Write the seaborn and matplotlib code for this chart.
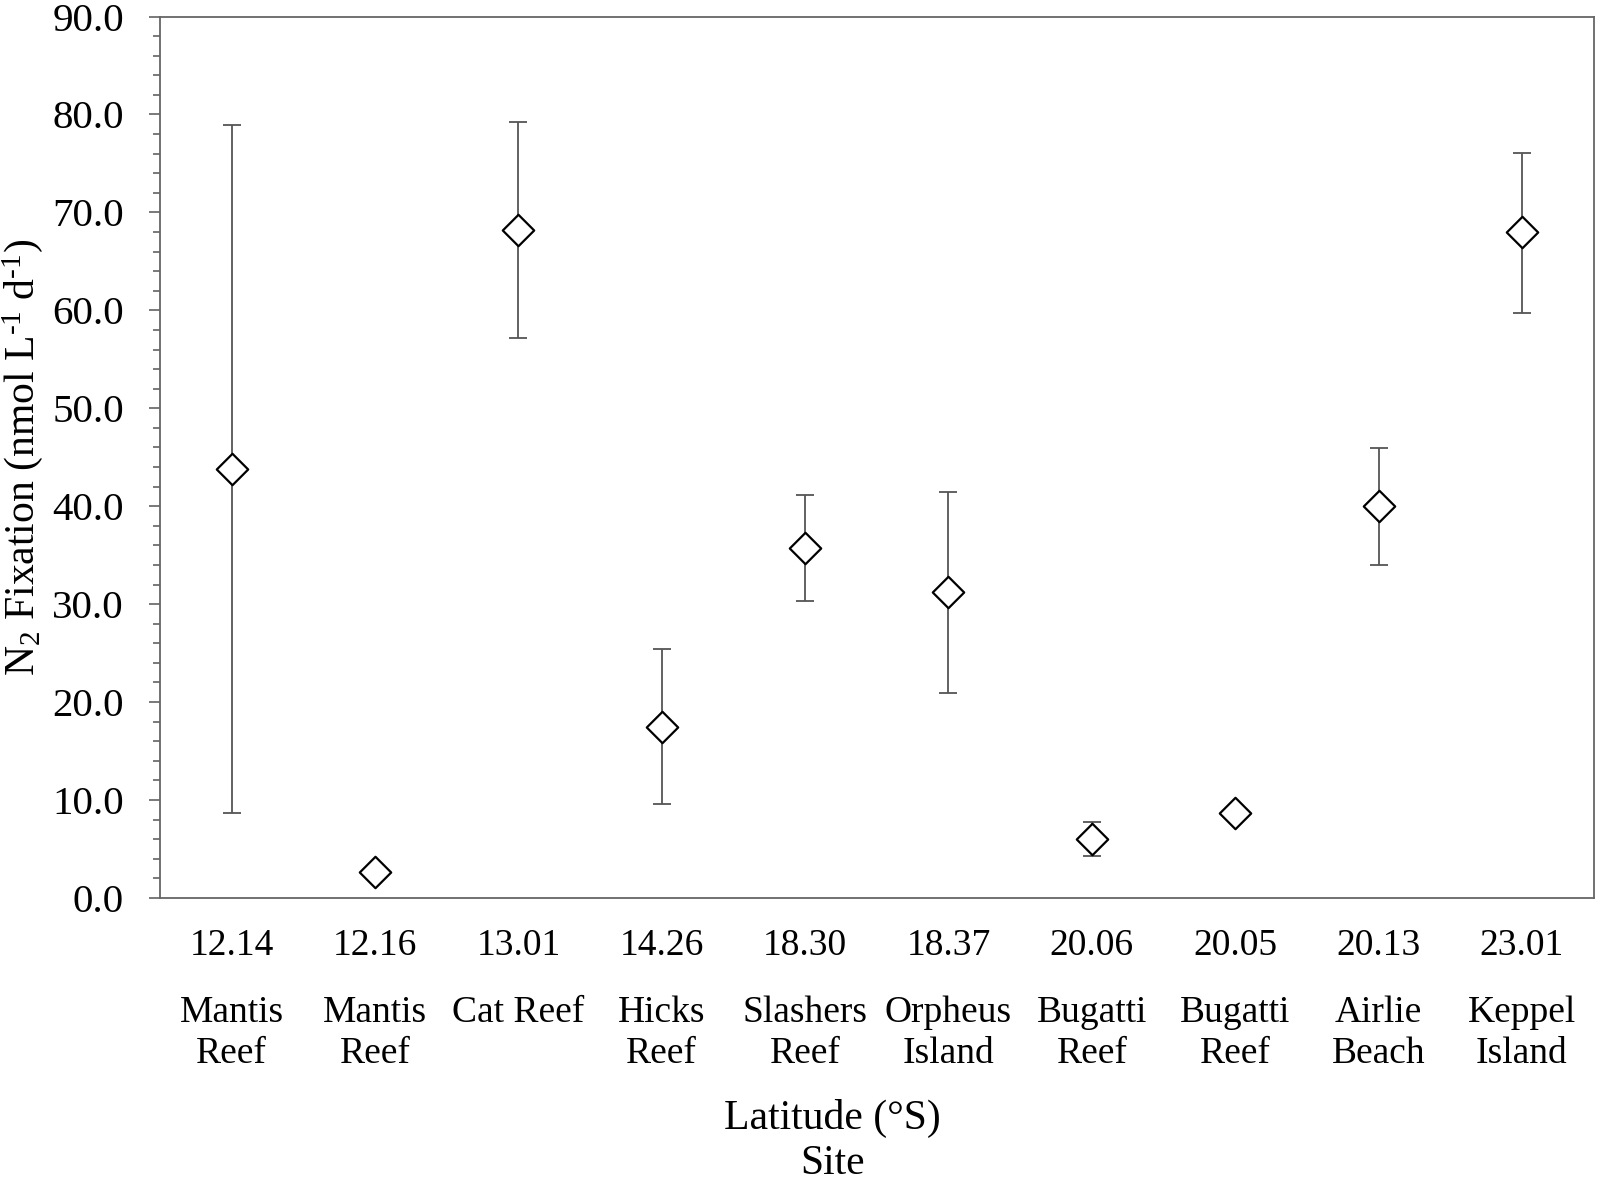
import numpy as np
import pandas as pd
import seaborn as sns
import matplotlib.pyplot as plt
from matplotlib.ticker import MultipleLocator, FormatStrFormatter

# Data
latitude = ['12.14', '12.16', '13.01', '14.26', '18.30', '18.37', '20.06', '20.05', '20.13', '23.01']
site = ['Mantis\nReef', 'Mantis\nReef', 'Cat Reef', 'Hicks\nReef', 'Slashers\nReef',
        'Orpheus\nIsland', 'Bugatti\nReef', 'Bugatti\nReef', 'Airlie\nBeach', 'Keppel\nIsland']
n2_fix = [43.8, 2.6, 68.2, 17.5, 35.7, 31.2, 6.05, 8.65, 40.0, 68.0]
err_upper = [78.9, 2.6, 79.2, 25.4, 41.1, 41.5, 7.7, 8.65, 45.9, 76.1]
err_lower = [8.65, 2.6, 57.2, 9.6, 30.3, 20.9, 4.3, 8.65, 34.0, 59.7]

df = pd.DataFrame({'lat': latitude, 'site': site, 'n2': n2_fix,
                   'hi': err_upper, 'lo': err_lower})

sns.set_style('ticks')
plt.rcParams['font.family'] = ['Liberation Serif', 'DejaVu Serif']
plt.rcParams['mathtext.fontset'] = 'custom'
plt.rcParams['mathtext.rm'] = 'Liberation Serif'
plt.rcParams['mathtext.it'] = 'Liberation Serif'
plt.rcParams['text.color'] = 'black'
plt.rcParams['axes.labelcolor'] = 'black'
plt.rcParams['xtick.labelcolor'] = 'black'
plt.rcParams['ytick.labelcolor'] = 'black'

fig = plt.figure(figsize=(16, 11.83), dpi=100)
ax = fig.add_axes([0.1, 0.241, 0.896, 0.745])

# error bars first, then the open diamonds on top
yerr = np.array([df['n2'] - df['lo'], df['hi'] - df['n2']])
ax.errorbar(df['lat'], df['n2'], yerr=yerr, fmt='none', ecolor='#555555',
            elinewidth=1.3, capsize=6.5, capthick=1.3, zorder=2)
sns.scatterplot(data=df, x='lat', y='n2', marker='D', s=16 ** 2, color='white',
                edgecolor='black', linewidth=1.6, zorder=3, ax=ax)

ax.set_xlim(-0.5, 9.5)
ax.set_ylim(0, 90)
ax.yaxis.set_major_locator(MultipleLocator(10))
ax.yaxis.set_minor_locator(MultipleLocator(2))
ax.yaxis.set_major_formatter(FormatStrFormatter('%.1f'))

for s in ax.spines.values():
    s.set_color('#666666')
    s.set_linewidth(1.3)

ax.tick_params(axis='y', which='major', direction='out', length=8, width=1.1,
               color='#555555', labelsize=29.5, pad=18)
ax.tick_params(axis='y', which='minor', direction='out', length=5, width=1.1,
               color='#555555')
ax.tick_params(axis='x', which='both', length=0, labelsize=27, pad=22)

# site names under the latitude labels
for i, name in enumerate(df['site']):
    ax.annotate(name, xy=(i, 0), xycoords=('data', 'axes fraction'),
                xytext=(0, -70), textcoords='offset points',
                ha='center', va='top', fontsize=27, linespacing=1.27)

ax.set_xlabel('Latitude (°S)\nSite', fontsize=30, linespacing=1.22)
ax.xaxis.set_label_coords(0.469, -0.228)
ax.set_ylabel('N$_2$ Fixation (nmol L$^{\\text{-1}}$ d$^{\\text{-1}}$)', fontsize=30)
ax.yaxis.set_label_coords(-0.080, 0.5)

fig.savefig('out.png', dpi=100, facecolor='white')
